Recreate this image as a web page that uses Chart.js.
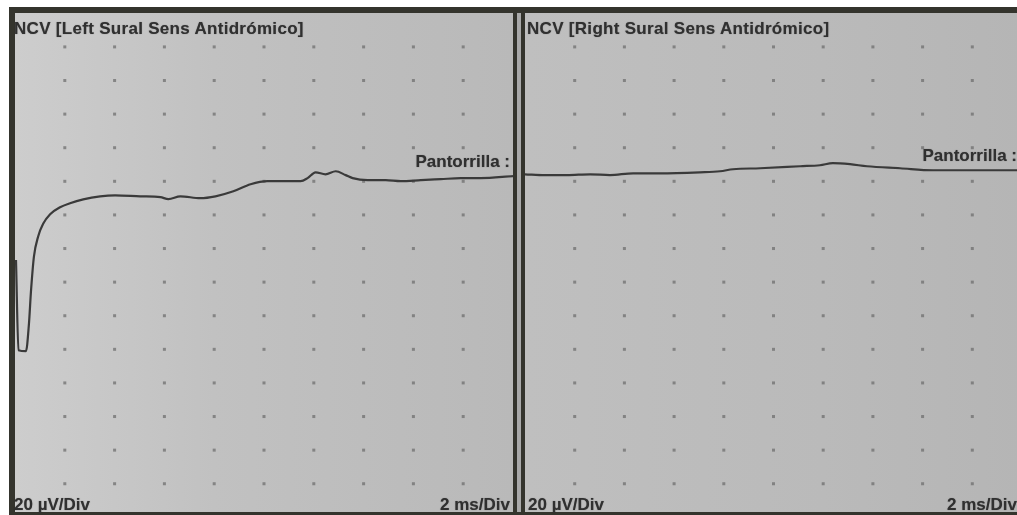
<!DOCTYPE html>
<html>
<head>
<meta charset="utf-8">
<script src="https://cdn.jsdelivr.net/npm/chart.js@4.4.1/dist/chart.umd.min.js"></script>
<style>
  html, body { margin: 0; padding: 0; background: #fff; overflow: hidden; width: 1017px; height: 515px; }
  #frame { position: absolute; left: 9px; top: 7px; width: 1020px; height: 510px; background: #34342d; }
  .panel { position: absolute; top: 13px; height: 499px; }
  #leftPanel { left: 15px; width: 498px; background: linear-gradient(90deg, #cdcdcd 0%, #c1c1c1 40%, #b9b9b9 100%); }
  #rightPanel { left: 525px; width: 497px; background: linear-gradient(90deg, #bfbfbf 0%, #bababa 60%, #b5b5b5 100%); }
  #gap { position: absolute; left: 517px; top: 13px; width: 4px; height: 499px; background: #a9a9a9; }
  .panel canvas { position: absolute; left: 0; top: 0; }
  .lbl { position: absolute; font-family: "Liberation Sans", Arial, sans-serif; font-weight: bold; color: #303030; white-space: nowrap; text-shadow: 0 0 1px rgba(40,40,40,0.5); }
  .title { font-size: 17px; top: 19px; letter-spacing: 0.3px; }
  .tag { font-size: 17px; }
  .unit { font-size: 17px; top: 495px; }
</style>
</head>
<body>
<div id="frame"></div>
<div id="gap"></div>
<div class="panel" id="leftPanel"><canvas id="leftChart"></canvas></div>
<div class="panel" id="rightPanel"><canvas id="rightChart"></canvas></div>

<div class="lbl title" style="left:14px">NCV [Left Sural Sens Antidrómico]</div>
<div class="lbl title" style="left:527px">NCV [Right Sural Sens Antidrómico]</div>
<div class="lbl tag" style="right:507px; top:152px">Pantorrilla :</div>
<div class="lbl tag" style="right:0px; top:146px">Pantorrilla :</div>
<div class="lbl unit" style="left:14px">20 µV/Div</div>
<div class="lbl unit" style="right:507px">2 ms/Div</div>
<div class="lbl unit" style="left:528px">20 µV/Div</div>
<div class="lbl unit" style="right:0px">2 ms/Div</div>

<script>
// time in ms, amplitude in µV (2 ms/Div, 20 µV/Div)
const leftTime = [0.04, 0.14, 0.44, 0.56, 0.64, 0.76, 0.93, 1.13, 1.41, 1.81, 2.21, 2.74, 3.42, 4.02,
  5.03, 5.84, 6.16, 6.64, 7.44, 8.05, 8.77, 9.46, 10.14, 10.87, 11.47, 11.75, 12.07, 12.47, 12.88,
  13.28, 13.56, 14.16, 14.89, 15.49, 16.3, 17.1, 17.9, 18.7, 20];
const leftAmp = [-47, -100.7, -101.3, -85, -66, -45, -33, -25.5, -19.8, -15.6, -13.2, -10.9, -9.1, -8.5,
  -9.1, -9.6, -10.8, -9.1, -10.2, -9.1, -6.1, -1.9, -0.1, -0.1, -0.1, 1.7, 5.2, 4.0, 5.8,
  3.5, 1.7, 0.5, 0.5, -0.1, 0.5, 1.1, 1.7, 1.7, 2.9];

const rightTime = [0, 0.8, 1.69, 2.62, 3.42, 4.35, 5.43, 7.04, 7.85, 8.37, 9.46, 11.07, 11.87, 12.39,
  13.08, 13.76, 15.09, 16.42, 17.5, 19.11, 20];
const rightAmp = [4.0, 3.5, 3.5, 4.0, 3.5, 4.6, 4.6, 5.2, 5.8, 7.0, 7.6, 8.8, 9.4, 10.6,
  10.0, 8.8, 7.6, 6.4, 6.4, 6.4, 6.4];

const xTicks = [2, 4, 6, 8, 10, 12, 14, 16, 18];
const yTicks = [80, 60, 40, 20, 0, -20, -40, -60, -80, -100, -120, -140, -160, -180];

// dots at grid intersections
const dotGrid = {
  id: 'dotGrid',
  beforeDatasetsDraw(chart) {
    const ctx = chart.ctx, xs = chart.scales.x, ys = chart.scales.y;
    ctx.save();
    ctx.fillStyle = 'rgba(105,105,105,0.7)';
    xTicks.forEach(tx => {
      yTicks.forEach(ty => {
        const px = xs.getPixelForValue(tx), py = ys.getPixelForValue(ty);
        ctx.fillRect(px - 1.5, py - 1.2, 3, 3);
      });
    });
    ctx.restore();
  }
};

function makeChart(id, time, amp, w) {
  const canvas = document.getElementById(id);
  canvas.parentNode.style.width = w + 'px';
  return new Chart(canvas, {
    type: 'line',
    data: {
      datasets: [{
        data: time.map((t, i) => ({ x: t, y: amp[i] })),
        borderColor: '#3a3a3a',
        borderWidth: 2.2,
        pointRadius: 0,
        cubicInterpolationMode: 'monotone',
        fill: false
      }]
    },
    options: {
      responsive: true,
      maintainAspectRatio: false,
      animation: false,
      layout: { padding: 0 },
      scales: {
        x: { type: 'linear', min: 0, max: 20, display: false },
        y: { type: 'linear', min: -197, max: 100, display: false }
      },
      plugins: { legend: { display: false }, tooltip: { enabled: false } }
    },
    plugins: [dotGrid]
  });
}

makeChart('leftChart', leftTime, leftAmp, 498);
makeChart('rightChart', rightTime, rightAmp, 497);
</script>
</body>
</html>
